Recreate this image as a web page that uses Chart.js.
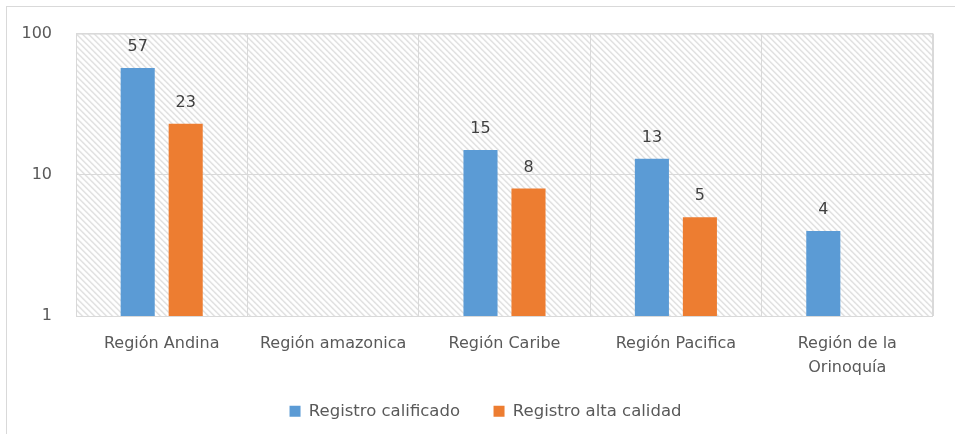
<!DOCTYPE html>
<html>
<head>
<meta charset="utf-8">
<script src="https://cdn.jsdelivr.net/npm/chart.js@4/dist/chart.umd.min.js"></script>
<style>
  html, body { margin: 0; padding: 0; background: #fff; overflow: hidden; }
  #frame { position: absolute; left: 6px; top: 6px; width: 1200px; height: 800px; border: 1px solid #d9d9d9; }
  #wrap { position: absolute; left: 0; top: 0; width: 955px; height: 434px; }
</style>
</head>
<body>
<div id="frame"></div>
<div id="wrap"><canvas id="chart"></canvas></div>
<script>
// data
var categories = ['Región Andina', 'Región amazonica', 'Región Caribe', 'Región Pacifica', ['Región de la', 'Orinoquía']];
var registroCalificado = [57, null, 15, 13, 4];
var registroAltaCalidad = [23, null, 8, 5, null];
var yTicks = [1, 10, 100];

var textColor = '#595959';
var gridColor = '#d9d9d9';
var fontFamily = '"DejaVu Sans", "Liberation Sans", sans-serif';

function hatchPattern(ctx) {
    var tile = document.createElement('canvas');
    tile.width = 6;
    tile.height = 6;
    var t = tile.getContext('2d');
    t.strokeStyle = '#d4d4d4';
    t.lineWidth = 1.1;
    t.beginPath();
    t.moveTo(-1, -1); t.lineTo(7, 7);
    t.moveTo(-1, 5); t.lineTo(1, 7);
    t.moveTo(5, -1); t.lineTo(7, 1);
    t.stroke();
    return ctx.createPattern(tile, 'repeat');
}

// hatched plot background and plot border
var plotArea = {
    id: 'plotArea',
    beforeDraw: function(chart) {
        var a = chart.chartArea, ctx = chart.ctx;
        ctx.save();
        ctx.fillStyle = hatchPattern(ctx);
        ctx.translate(a.left, a.top);
        ctx.fillRect(0, 0, a.right - a.left, a.bottom - a.top);
        ctx.restore();
    },
    beforeDatasetsDraw: function(chart) {
        var a = chart.chartArea, ctx = chart.ctx;
        ctx.save();
        ctx.strokeStyle = gridColor;
        ctx.lineWidth = 1;
        ctx.strokeRect(a.left + 0.5, a.top + 0.5, a.right - a.left - 1, a.bottom - a.top);
        ctx.restore();
    }
};

// value labels above the bars
var barLabels = {
    id: 'barLabels',
    afterDatasetsDraw: function(chart) {
        var ctx = chart.ctx;
        ctx.save();
        ctx.font = '16px ' + fontFamily;
        ctx.fillStyle = '#404040';
        ctx.textAlign = 'center';
        ctx.textBaseline = 'bottom';
        chart.data.datasets.forEach(function(ds, i) {
            chart.getDatasetMeta(i).data.forEach(function(bar, j) {
                if (ds.data[j] == null) return;
                ctx.fillText(ds.data[j], bar.x, bar.y - 13);
            });
        });
        ctx.restore();
    }
};

// the legend sits a little right of centre in the original
var legendShift = {
    id: 'legendShift',
    afterLayout: function(chart) {
        if (!chart.legend) return;
        chart.legend.left += 16;
        chart.legend.right += 16;
    }
};

var defaultLabels = Chart.defaults.plugins.legend.labels.generateLabels;

new Chart(document.getElementById('chart').getContext('2d'), {
    type: 'bar',
    data: {
        labels: categories,
        datasets: [
            { label: 'Registro calificado', data: registroCalificado, backgroundColor: '#5b9bd5' },
            { label: 'Registro alta calidad', data: registroAltaCalidad, backgroundColor: '#ed7d31' }
        ]
    },
    options: {
        responsive: true,
        maintainAspectRatio: false,
        animation: false,
        categoryPercentage: 0.56,
        barPercentage: 0.71,
        layout: { padding: { left: 6, right: 22, top: 32, bottom: 4.5 } },
        plugins: {
            legend: {
                position: 'bottom',
                labels: {
                    boxWidth: 11,
                    boxHeight: 11,
                    padding: 23,
                    color: textColor,
                    font: { family: fontFamily, size: 16.5 },
                    // widen the gap between the two entries
                    generateLabels: function(chart) {
                        var items = defaultLabels(chart);
                        items.forEach(function(it, i) {
                            if (i < items.length - 1) it.text = it.text + '  ';
                        });
                        return items;
                    }
                }
            },
            tooltip: { enabled: false }
        },
        scales: {
            x: {
                grid: { color: gridColor, drawTicks: false },
                border: { display: false },
                ticks: {
                    color: textColor,
                    padding: 15,
                    maxRotation: 0,
                    font: { family: fontFamily, size: 16, lineHeight: 1.55 }
                },
                afterFit: function(scale) { scale.height = 64; }
            },
            y: {
                type: 'logarithmic',
                min: 1,
                max: 100,
                grid: { color: gridColor, drawTicks: false },
                border: { display: false },
                afterBuildTicks: function(scale) {
                    scale.ticks = yTicks.map(function(v) { return { value: v }; });
                },
                ticks: {
                    color: textColor,
                    padding: 24,
                    font: { family: fontFamily, size: 16 },
                    callback: function(v) { return String(v); }
                },
                afterFit: function(scale) { scale.width = 70; }
            }
        }
    },
    plugins: [plotArea, barLabels, legendShift]
});
</script>
</body>
</html>
